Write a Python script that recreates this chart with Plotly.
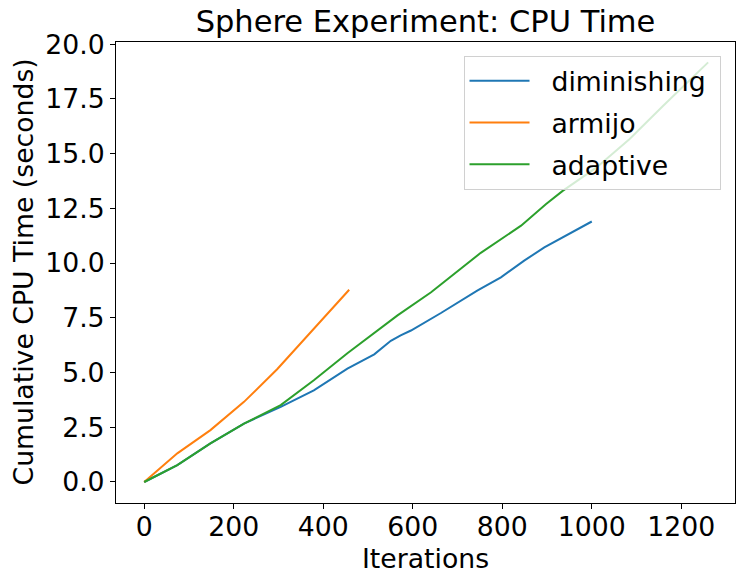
import plotly.graph_objects as go

dim_x = [0, 74, 148, 223, 305, 379, 454, 514, 551, 573, 596, 663, 745, 797, 849, 894, 1000]
dim_y = [0, 0.77, 1.76, 2.67, 3.43, 4.19, 5.18, 5.83, 6.45, 6.70, 6.92, 7.72, 8.75, 9.35, 10.11, 10.72, 11.90]

arm_x = [0, 74, 148, 223, 297, 379, 458]
arm_y = [0, 1.31, 2.37, 3.66, 5.15, 7.0, 8.78]

ada_x = [0, 74, 148, 223, 305, 379, 454, 566, 641, 752, 842, 898, 935, 1010, 1084, 1159, 1260]
ada_y = [0, 0.77, 1.76, 2.67, 3.51, 4.65, 5.88, 7.61, 8.67, 10.47, 11.71, 12.70, 13.30, 14.36, 15.66, 17.18, 19.17]

series = [
    ("diminishing", dim_x, dim_y, "#1f77b4"),
    ("armijo", arm_x, arm_y, "#ff7f0e"),
    ("adaptive", ada_x, ada_y, "#2ca02c"),
]

x_ticks = [0, 200, 400, 600, 800, 1000, 1200]
y_ticks = [0.0, 2.5, 5.0, 7.5, 10.0, 12.5, 15.0, 17.5, 20.0]

FONT = "DejaVu Sans"
FS = 26.7
NB = "\u00a0"

fig = go.Figure()
for name, xs, ys, col in series:
    fig.add_trace(go.Scatter(x=xs, y=ys, mode="lines", name=NB * 2 + name + NB,
                             legendgroup=name,
                             line=dict(color=col, width=2)))

axis_common = dict(
    showline=True, linecolor="black", linewidth=1.1, mirror=True,
    ticks="outside", ticklen=5, tickwidth=1.1, tickcolor="black",
    showgrid=False, zeroline=False, automargin=False,
    tickfont=dict(family=FONT, size=FS, color="black"),
)

fig.update_layout(
    template="none",
    width=745, height=584,
    margin=dict(l=116, r=10, t=42, b=81, pad=0),
    paper_bgcolor="white", plot_bgcolor="white",
    title=dict(text="Sphere Experiment: CPU Time", x=0.5, xref="paper", xanchor="center",
               y=1, yref="paper", yanchor="bottom", pad=dict(b=10),
               font=dict(family=FONT, size=30.5, color="black")),
    xaxis=dict(range=[-63, 1320], tickvals=x_ticks,
               ticktext=[str(v) for v in x_ticks], ticklabelstandoff=-5,
               **axis_common),
    yaxis=dict(range=[-0.96, 20.1], tickvals=y_ticks,
               ticktext=[f"{v:.1f}" for v in y_ticks],
               **axis_common),
    legend=dict(x=0.9766, y=0.9697, xanchor="right", yanchor="top",
                bgcolor="rgba(255,255,255,0.8)", bordercolor="#d0d0d0", borderwidth=1,
                font=dict(family=FONT, size=FS, color="black"),
                itemwidth=60, tracegroupgap=4, traceorder="grouped"),
    showlegend=True,
    annotations=[
        dict(text="Iterations", xref="paper", yref="paper", x=0.5, y=0,
             xanchor="center", yanchor="middle", yshift=-55, showarrow=False,
             font=dict(family=FONT, size=FS, color="black")),
        dict(text="Cumulative CPU Time (seconds)", xref="paper", yref="paper", x=0, y=0.5,
             xanchor="center", yanchor="middle", xshift=-93, textangle=-90, showarrow=False,
             font=dict(family=FONT, size=FS, color="black")),
    ],
)

fig.write_html("out.html", config={"displayModeBar": False},
               post_script="document.body.style.margin='0';")
